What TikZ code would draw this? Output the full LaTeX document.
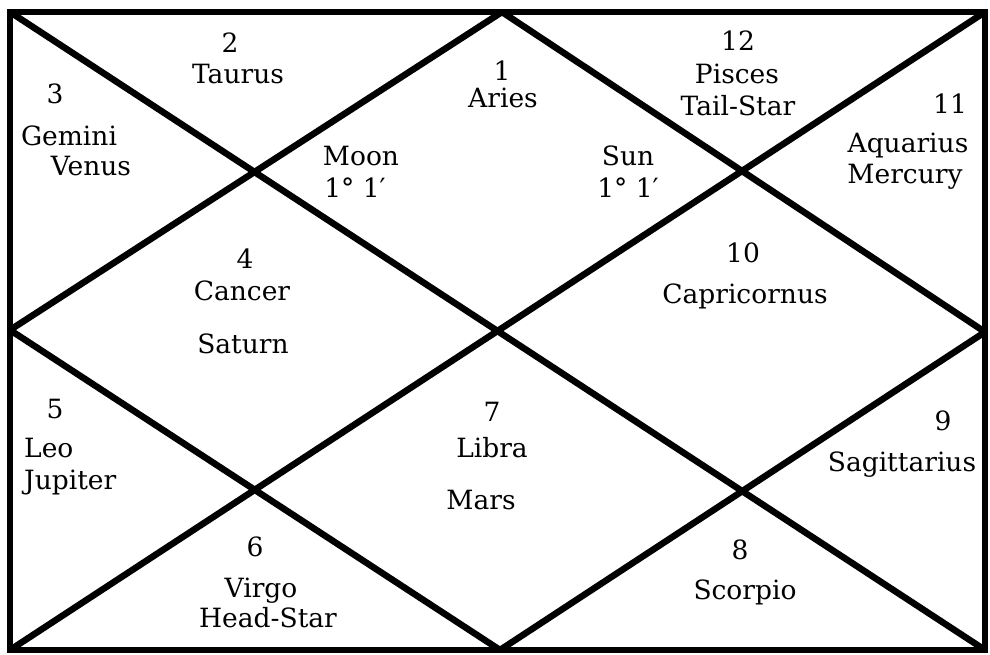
\documentclass[tikz,border=0pt]{standalone}
\usepackage{fontspec}
\setmainfont{DejaVu Serif}
\begin{document}
\begin{tikzpicture}[x=1pt,y=-1pt,
  chartline/.style={line width=6.5pt,black},
  lbl/.style={anchor=base,inner sep=0pt,font=\fontsize{26.5}{31}\selectfont},
  lbll/.style={lbl,anchor=base west}]
\useasboundingbox (0,0) rectangle (990,654);
% corners and midpoints
\coordinate (TL) at (10,12);
\coordinate (TR) at (985,12);
\coordinate (BR) at (985,650);
\coordinate (BL) at (10,650);
\coordinate (TM) at (502,12);
\coordinate (RM) at (985,332);
\coordinate (BM) at (500,650);
\coordinate (LM) at (10,330);
% frame
\draw[chartline] (TL) -- (TR) -- (BR) -- (BL) -- cycle;
% diagonals
\draw[chartline] (TL) -- (BR);
\draw[chartline] (TR) -- (BL);
% diamond
\draw[chartline,line join=bevel] (TM) -- (RM) -- (BM) -- (LM) -- cycle;
% house 1
\node[lbl] (h1n) at (502,80) {1};
\node[lbl] (h1s) at (503,107) {Aries};
\node[lbl] (moon) at (361,165) {Moon};
\node[lbl] (moond) at (355,197) {1° 1′};
\node[lbl] (sun) at (628,165) {Sun};
\node[lbl] (sund) at (628,197) {1° 1′};
% house 2
\node[lbl] (h2n) at (230,52) {2};
\node[lbl] (h2s) at (238,83) {Taurus};
% house 3
\node[lbl] (h3n) at (55,103) {3};
\node[lbl] (h3s) at (69,145) {Gemini};
\node[lbl] (h3p) at (91,175) {Venus};
% house 4
\node[lbl] (h4n) at (245,268) {4};
\node[lbl] (h4s) at (242,300) {Cancer};
\node[lbl] (h4p) at (243,353) {Saturn};
% house 5
\node[lbl] (h5n) at (55,418) {5};
\node[lbll] (h5s) at (24,457) {Leo};
\node[lbll] (h5p) at (24,489) {Jupiter};
% house 6
\node[lbl] (h6n) at (255,556) {6};
\node[lbl] (h6s) at (261,597) {Virgo};
\node[lbl] (h6p) at (268,627) {Head-Star};
% house 7
\node[lbl] (h7n) at (492,421) {7};
\node[lbl] (h7s) at (492,457) {Libra};
\node[lbl] (h7p) at (481,509) {Mars};
% house 8
\node[lbl] (h8n) at (740,559) {8};
\node[lbl] (h8s) at (745,599) {Scorpio};
% house 9
\node[lbl] (h9n) at (943,430) {9};
\node[lbl] (h9s) at (902,471) {Sagittarius};
% house 10
\node[lbl] (h10n) at (743,262) {10};
\node[lbl] (h10s) at (745,303) {Capricornus};
% house 11
\node[lbl] (h11n) at (950,113) {11};
\node[lbl] (h11s) at (908,152) {Aquarius};
\node[lbl] (h11p) at (905,183) {Mercury};
% house 12
\node[lbl] (h12n) at (738,50) {12};
\node[lbl] (h12s) at (737,83) {Pisces};
\node[lbl] (h12p) at (738,115) {Tail-Star};
\end{tikzpicture}
\end{document}
